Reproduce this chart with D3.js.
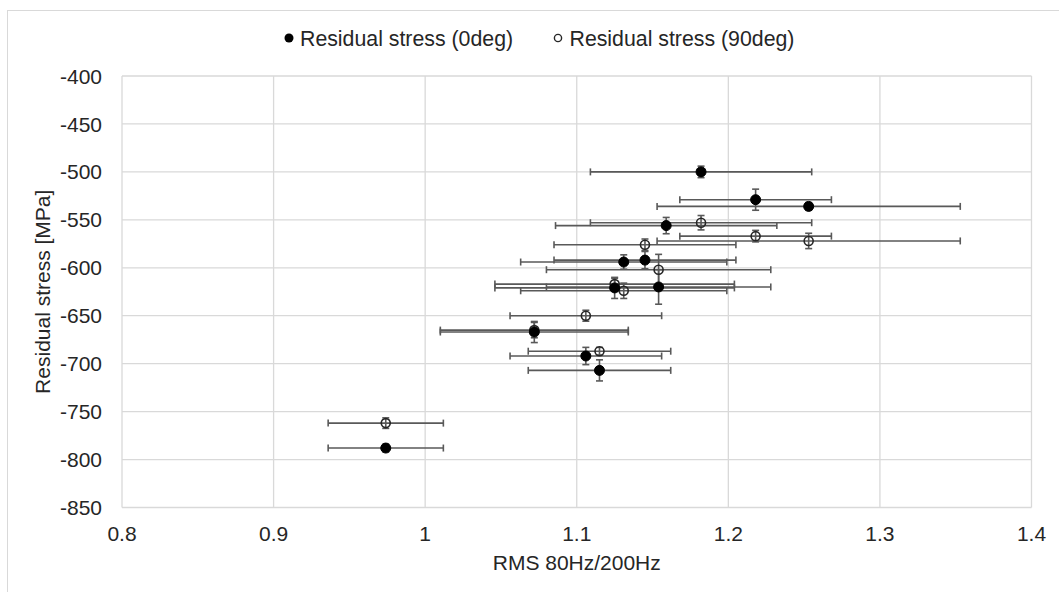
<!DOCTYPE html>
<html>
<head>
<meta charset="utf-8">
<script src="https://d3js.org/d3.v7.min.js"></script>
<style>
  body { margin: 0; background: #fff; }
  svg { display: block; font-family: "Liberation Sans", Arial, sans-serif; }
</style>
</head>
<body>
<svg width="1059" height="592"></svg>
<script>
// Residual stress (0deg) - filled markers
var rms0       = [0.974, 1.072, 1.106, 1.115, 1.125, 1.131, 1.145, 1.154, 1.159, 1.182, 1.218, 1.253];
var stress0    = [-788, -667, -692, -707, -621, -594, -592, -620, -556, -500, -529, -536];
var rmsErr0    = [0.038, 0.062, 0.05, 0.047, 0.079, 0.068, 0.06, 0.074, 0.073, 0.073, 0.05, 0.1];
var stressErr0 = [4, 11, 9, 11, 11, 7.5, 9, 18, 8.5, 6, 11, 4];

// Residual stress (90deg) - open markers
var rms90       = [0.974, 1.072, 1.106, 1.115, 1.125, 1.131, 1.145, 1.154, 1.182, 1.218, 1.253];
var stress90    = [-762, -665, -650, -687, -617, -624, -576, -602, -553, -567, -572];
var rmsErr90    = [0.038, 0.062, 0.05, 0.047, 0.079, 0.068, 0.06, 0.074, 0.073, 0.05, 0.1];
var stressErr90 = [5.5, 8, 5.7, 4, 6, 8, 6, 16, 7.5, 6, 8];

var xTicks = [0.8, 0.9, 1.0, 1.1, 1.2, 1.3, 1.4];
var yTicks = [-400, -450, -500, -550, -600, -650, -700, -750, -800, -850];
var seriesNames = ["Residual stress (0deg)", "Residual stress (90deg)"];

var svg = d3.select("svg");
var grid = "#d9d9d9";
var barColor = "#595959";

// outer chart border (runs off the right and bottom of the picture)
svg.append("rect")
  .attr("x", 7.5).attr("y", 10.5)
  .attr("width", 1100).attr("height", 700)
  .attr("fill", "none").attr("stroke", grid).attr("stroke-width", 1);

var x = d3.scaleLinear().domain([0.8, 1.4]).range([122, 1031.5]);
var y = d3.scaleLinear().domain([-850, -400]).range([507.5, 76]);

// gridlines
svg.append("g").selectAll("line").data(xTicks).enter().append("line")
  .attr("x1", d => x(d)).attr("x2", d => x(d))
  .attr("y1", y(-400)).attr("y2", y(-850))
  .attr("stroke", grid).attr("stroke-width", 1.3);
svg.append("g").selectAll("line").data(yTicks).enter().append("line")
  .attr("x1", x(0.8)).attr("x2", x(1.4))
  .attr("y1", d => y(d)).attr("y2", d => y(d))
  .attr("stroke", grid).attr("stroke-width", 1.3);

// tick labels
svg.append("g").selectAll("text").data(xTicks).enter().append("text")
  .attr("x", d => x(d)).attr("y", 540.5)
  .attr("text-anchor", "middle")
  .attr("font-size", 21).attr("fill", "#262626")
  .text(d => d3.format("")(d));
svg.append("g").selectAll("text").data(yTicks).enter().append("text")
  .attr("x", 102).attr("y", d => y(d))
  .attr("dy", "0.36em")
  .attr("text-anchor", "end")
  .attr("font-size", 21).attr("fill", "#262626")
  .text(d => d);

// axis titles
svg.append("text")
  .attr("x", (x(0.8) + x(1.4)) / 2).attr("y", 570)
  .attr("text-anchor", "middle")
  .attr("font-size", 21).attr("fill", "#262626")
  .text("RMS 80Hz/200Hz");
svg.append("text")
  .attr("transform", "translate(50," + (y(-400) + y(-850)) / 2 + ") rotate(-90)")
  .attr("text-anchor", "middle")
  .attr("font-size", 21).attr("fill", "#262626")
  .text("Residual stress [MPa]");

function toPoints(xs, ys, xe, ye) {
  return xs.map(function(d, i) { return { x: d, y: ys[i], xe: xe[i], ye: ye[i] }; });
}
var pts0 = toPoints(rms0, stress0, rmsErr0, stressErr0);
var pts90 = toPoints(rms90, stress90, rmsErr90, stressErr90);

function drawErrors(pts) {
  var g = svg.append("g")
    .attr("stroke", barColor).attr("stroke-width", 1.6).attr("fill", "none");
  var cap = 3.5;
  pts.forEach(function(p) {
    var cx = x(p.x), cy = y(p.y);
    var x1 = x(p.x - p.xe), x2 = x(p.x + p.xe);
    var y1 = y(p.y + p.ye), y2 = y(p.y - p.ye);
    g.append("line").attr("x1", x1).attr("x2", x2).attr("y1", cy).attr("y2", cy);
    g.append("line").attr("x1", x1).attr("x2", x1).attr("y1", cy - cap).attr("y2", cy + cap);
    g.append("line").attr("x1", x2).attr("x2", x2).attr("y1", cy - cap).attr("y2", cy + cap);
    g.append("line").attr("x1", cx).attr("x2", cx).attr("y1", y1).attr("y2", y2);
    g.append("line").attr("x1", cx - cap).attr("x2", cx + cap).attr("y1", y1).attr("y2", y1);
    g.append("line").attr("x1", cx - cap).attr("x2", cx + cap).attr("y1", y2).attr("y2", y2);
  });
}

drawErrors(pts90);
drawErrors(pts0);

svg.append("g").selectAll("circle").data(pts90).enter().append("circle")
  .attr("cx", d => x(d.x)).attr("cy", d => y(d.y)).attr("r", 4.5)
  .attr("fill", "none").attr("stroke", "#262626").attr("stroke-width", 1.6);
svg.append("g").selectAll("circle").data(pts0).enter().append("circle")
  .attr("cx", d => x(d.x)).attr("cy", d => y(d.y)).attr("r", 5)
  .attr("fill", "#000").attr("stroke", "#000").attr("stroke-width", 1);

// legend
var legend = svg.append("g");
legend.append("circle").attr("cx", 289).attr("cy", 38).attr("r", 4.5).attr("fill", "#000");
legend.append("text").attr("x", 300).attr("y", 45.5)
  .attr("font-size", 21.3).attr("fill", "#262626").text(seriesNames[0]);
legend.append("circle").attr("cx", 558).attr("cy", 38).attr("r", 3.6)
  .attr("fill", "none").attr("stroke", "#262626").attr("stroke-width", 1.4);
legend.append("text").attr("x", 569.5).attr("y", 45.5)
  .attr("font-size", 21.3).attr("fill", "#262626").text(seriesNames[1]);
</script>
</body>
</html>
